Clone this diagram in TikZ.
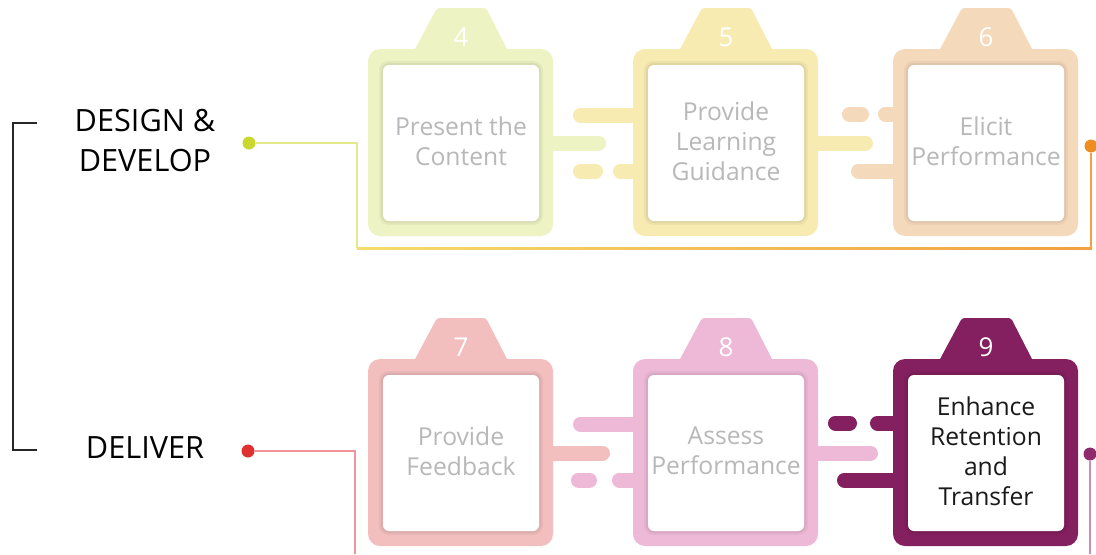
\documentclass[tikz,border=0pt]{standalone}
\usepackage{fontspec}
\setmainfont{Open Sans}
\usetikzlibrary{calc}
\definecolor{cfour}{HTML}{EEF3C3}
\definecolor{cfive}{HTML}{F7EBB1}
\definecolor{csix}{HTML}{F5D9BB}
\definecolor{cseven}{HTML}{F2BEBE}
\definecolor{ceight}{HTML}{EEB9D7}
\definecolor{cnine}{HTML}{84205F}
\definecolor{fadetext}{HTML}{B8B8B8}
\definecolor{darktext}{HTML}{1A1A1A}
\definecolor{limeline}{HTML}{E4EA8C}
\definecolor{limedot}{HTML}{C8D82E}
\definecolor{yelline}{HTML}{F3DC6C}
\definecolor{orline}{HTML}{F2A040}
\definecolor{ordot}{HTML}{EE8E22}
\definecolor{redline}{HTML}{F0939A}
\definecolor{reddot}{HTML}{E03131}
\definecolor{magline}{HTML}{CC8CB7}
\definecolor{magdot}{HTML}{8E2A6D}
\tikzset{
  bar/.style={line width=11.25pt, line cap=round},
  boxtext/.style={align=center, font=\fontsize{18.5}{22.5}\selectfont, inner sep=0pt},
  numtext/.style={text=white, font=\fontsize{19.5}{22}\selectfont, inner sep=0pt},
  phase/.style={align=center, font=\fontsize{23}{30}\selectfont, text=black, inner sep=0pt},
  dotnode/.style={circle, inner sep=0pt, minimum size=9.75pt},
  link/.style={line width=1.5pt}
}
% #1 x, #2 y (outer top-left, px), #3 colour, #4 number, #5 text, #6 text colour, #7 name
\newcommand\mystepbox[7]{%
  \fill[#3, rounded corners=2pt] (#1+46,#2+2) -- (#1+69,#2-41) -- (#1+118,#2-41) -- (#1+140,#2+2) -- cycle;
  \fill[#3, rounded corners=9pt] (#1,#2) rectangle ++(185,187);
  \fill[black, opacity=0.04, rounded corners=7pt] (#1+11,#2+12) rectangle ++(164,164);
  \fill[black, opacity=0.05, rounded corners=6pt] (#1+13,#2+14) rectangle ++(160,160);
  \fill[white, rounded corners=4.5pt] (#1+15,#2+16) rectangle ++(156,156);
  \node[numtext] (#7num) at (#1+93,#2-12) {#4};
  \node[boxtext, text=#6] (#7) at (#1+93,#2+92) {#5};
}
\begin{document}
\begin{tikzpicture}[x=0.75pt, y=-0.75pt]
\useasboundingbox (0,0) rectangle (1096,554);

% bracket
\draw[line width=1.6pt, color=black!85] (37,123) -- (13,123) -- (13,450) -- (37,450);

% phase labels
\node[phase] (design) at (145,141) {DESIGN \&\\DEVELOP};
\node[phase] (deliver) at (145,448) {DELIVER};

% dots
\node[dotnode, fill=limedot] (gdot) at (249,143) {};
\node[dotnode, fill=ordot] (odot) at (1091,146) {};
\node[dotnode, fill=reddot] (rdot) at (248,451) {};
\node[dotnode, fill=magdot] (mdot) at (1090,454) {};
\coordinate (tl) at (357,248);
\coordinate (tr) at (1091,248);
\coordinate (bl) at (355,554);
\coordinate (br) at (1090,554);

% connecting lines
\draw[link, limeline] (gdot) -| (tl);
\shade[left color=yelline, right color=orline] (357,247) rectangle (1092,249);
\draw[link, orline] (tr) -- (odot);
\draw[link, redline] (rdot) -| (bl);
\draw[link, magline] (mdot) -- (br);

% bars top row
\draw[bar, cfour] (540,143) -- (598.5,143);
\draw[bar, cfive] (580.5,115) -- (640,115);
\draw[bar, cfive] (580.5,171) -- (595.5,171);
\draw[bar, cfive] (620.5,171) -- (640,171);
\draw[bar, cfive] (805,143) -- (865.5,143);
\draw[bar, csix] (849.5,114) -- (861.5,114);
\draw[bar, csix] (885.5,114) -- (900,114);
\draw[bar, csix] (858.5,171) -- (900,171);
% bars bottom row
\draw[bar, cseven] (540,453) -- (602.5,453);
\draw[bar, ceight] (580.5,424) -- (640,424);
\draw[bar, ceight] (578.5,480) -- (589.5,480);
\draw[bar, ceight] (619.5,480) -- (640,480);
\draw[bar, ceight] (805,453) -- (870.5,453);
\draw[bar, cnine] (835.5,423) -- (849.5,423);
\draw[bar, cnine] (877.5,423) -- (900,423);
\draw[bar, cnine] (844.5,480) -- (900,480);

% boxes
\mystepbox{368}{49}{cfour}{4}{Present the\\Content}{fadetext}{s4}
\mystepbox{633}{49}{cfive}{5}{Provide\\Learning\\Guidance}{fadetext}{s5}
\mystepbox{893}{49}{csix}{6}{Elicit\\Performance}{fadetext}{s6}
\mystepbox{368}{359}{cseven}{7}{Provide\\Feedback}{fadetext}{s7}
\mystepbox{633}{359}{ceight}{8}{Assess\\Performance}{fadetext}{s8}
\mystepbox{893}{359}{cnine}{9}{Enhance\\Retention\\and\\Transfer}{darktext}{s9}
\end{tikzpicture}
\end{document}
